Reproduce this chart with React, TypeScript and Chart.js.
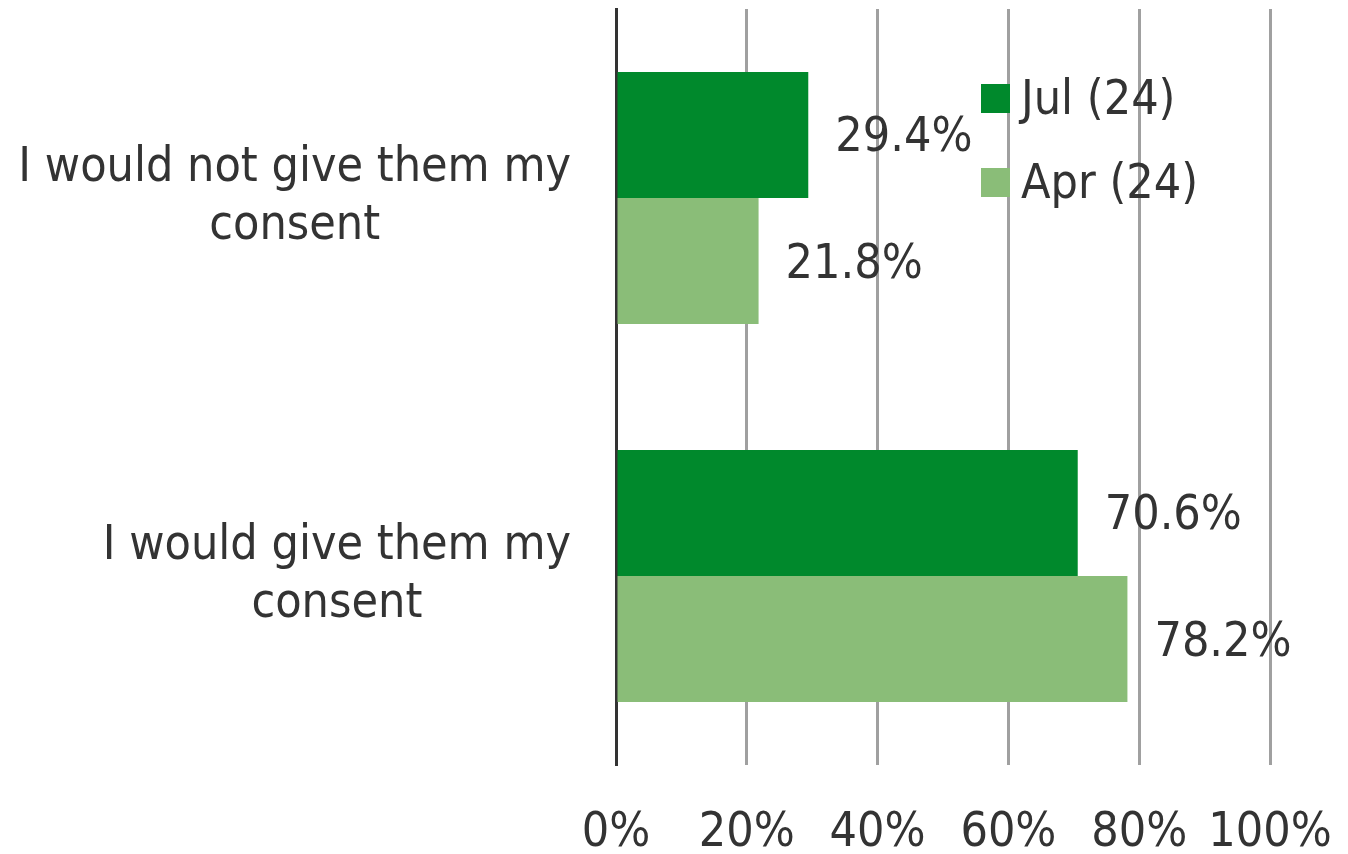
import React, { useEffect, useRef } from 'react';
import { Chart, registerables } from 'chart.js';

Chart.register(...registerables);

const categories: string[][] = [
  ['I would not give them my', 'consent'],
  ['I would give them my', 'consent'],
];
const seriesLabels = ['Jul (24)', 'Apr (24)'];
const julValues = [29.4, 70.6];
const aprValues = [21.8, 78.2];
const seriesColors = ['#00892C', '#8ABD78'];
const xTickValues = [0, 20, 40, 60, 80, 100];

const FONT_FAMILY = '"DejaVu Sans Condensed", "DejaVu Sans", sans-serif';
const FONT_SIZE = 48;
const TEXT_COLOR = '#333333';

const labelsPlugin = {
  id: 'customLabels',
  afterDatasetsDraw(chart: any) {
    const { ctx, chartArea } = chart;
    const yScale = chart.scales.y;
    ctx.save();
    ctx.font = `${FONT_SIZE}px ${FONT_FAMILY}`;
    ctx.fillStyle = TEXT_COLOR;

    // category labels (block right-aligned, lines centered)
    categories.forEach((lines, i) => {
      const cy = yScale.getPixelForValue(i);
      const maxW = Math.max(...lines.map((l) => ctx.measureText(l).width));
      const cx = chartArea.left - 45 - maxW / 2;
      const lh = 58;
      const y0 = cy - ((lines.length - 1) * lh) / 2;
      ctx.textAlign = 'center';
      ctx.textBaseline = 'middle';
      lines.forEach((l, j) => ctx.fillText(l, cx, y0 + j * lh));
    });

    // data labels
    chart.data.datasets.forEach((ds: any, di: number) => {
      const meta = chart.getDatasetMeta(di);
      meta.data.forEach((el: any, i: number) => {
        ctx.textAlign = 'left';
        ctx.textBaseline = 'middle';
        ctx.fillText(ds.data[i].toFixed(1) + '%', el.x + 27, el.y + 4);
      });
    });

    // legend
    chart.data.datasets.forEach((ds: any, di: number) => {
      const bx = chartArea.left + 365;
      const by = chartArea.top + 75 + di * 84;
      ctx.fillStyle = ds.backgroundColor;
      ctx.fillRect(bx, by, 29, 29);
      ctx.fillStyle = TEXT_COLOR;
      ctx.textAlign = 'left';
      ctx.textBaseline = 'middle';
      ctx.fillText(ds.label, bx + 40, by + 18);
    });
    ctx.restore();
  },
};

export default function App() {
  const canvasRef = useRef<HTMLCanvasElement | null>(null);

  useEffect(() => {
    document.body.style.margin = '0';
    const canvas = canvasRef.current;
    if (!canvas) return;
    const chart = new Chart(canvas, {
      type: 'bar',
      data: {
        labels: categories.map((c) => c.join(' ')),
        datasets: [
          { label: seriesLabels[0], data: julValues, backgroundColor: seriesColors[0] },
          { label: seriesLabels[1], data: aprValues, backgroundColor: seriesColors[1] },
        ],
      },
      options: {
        indexAxis: 'y',
        animation: false,
        responsive: false,
        maintainAspectRatio: false,
        layout: { padding: { top: 9, right: 78, left: 0, bottom: 0 } },
        datasets: {
          bar: { categoryPercentage: 0.667, barPercentage: 1.0 },
        },
        plugins: {
          legend: { display: false },
          tooltip: { enabled: false },
        },
        scales: {
          x: {
            type: 'linear',
            min: 0,
            max: 100,
            afterBuildTicks: (scale: any) => {
              scale.ticks = xTickValues.map((v) => ({ value: v }));
            },
            afterFit: (scale: any) => {
              scale.height = 854 - 765;
              scale.paddingLeft = 0;
              scale.paddingRight = 0;
            },
            ticks: {
              callback: (v: any) => v + '%',
              color: TEXT_COLOR,
              font: { family: FONT_FAMILY, size: FONT_SIZE },
              padding: 40,
              maxRotation: 0,
              autoSkip: false,
            },
            grid: { color: '#A0A0A0', lineWidth: 3, drawTicks: false },
            border: { display: false },
          },
          y: {
            type: 'category',
            afterFit: (scale: any) => {
              scale.width = 616;
            },
            ticks: { display: false },
            grid: { display: false, drawTicks: false },
            border: { display: true, color: '#333333', width: 3 },
          },
        },
      },
      plugins: [labelsPlugin],
    });
    return () => chart.destroy();
  }, []);

  return (
    <div style={{ width: 1348, height: 854 }}>
      <canvas ref={canvasRef} width={1348} height={854} style={{ display: 'block' }} />
    </div>
  );
}
